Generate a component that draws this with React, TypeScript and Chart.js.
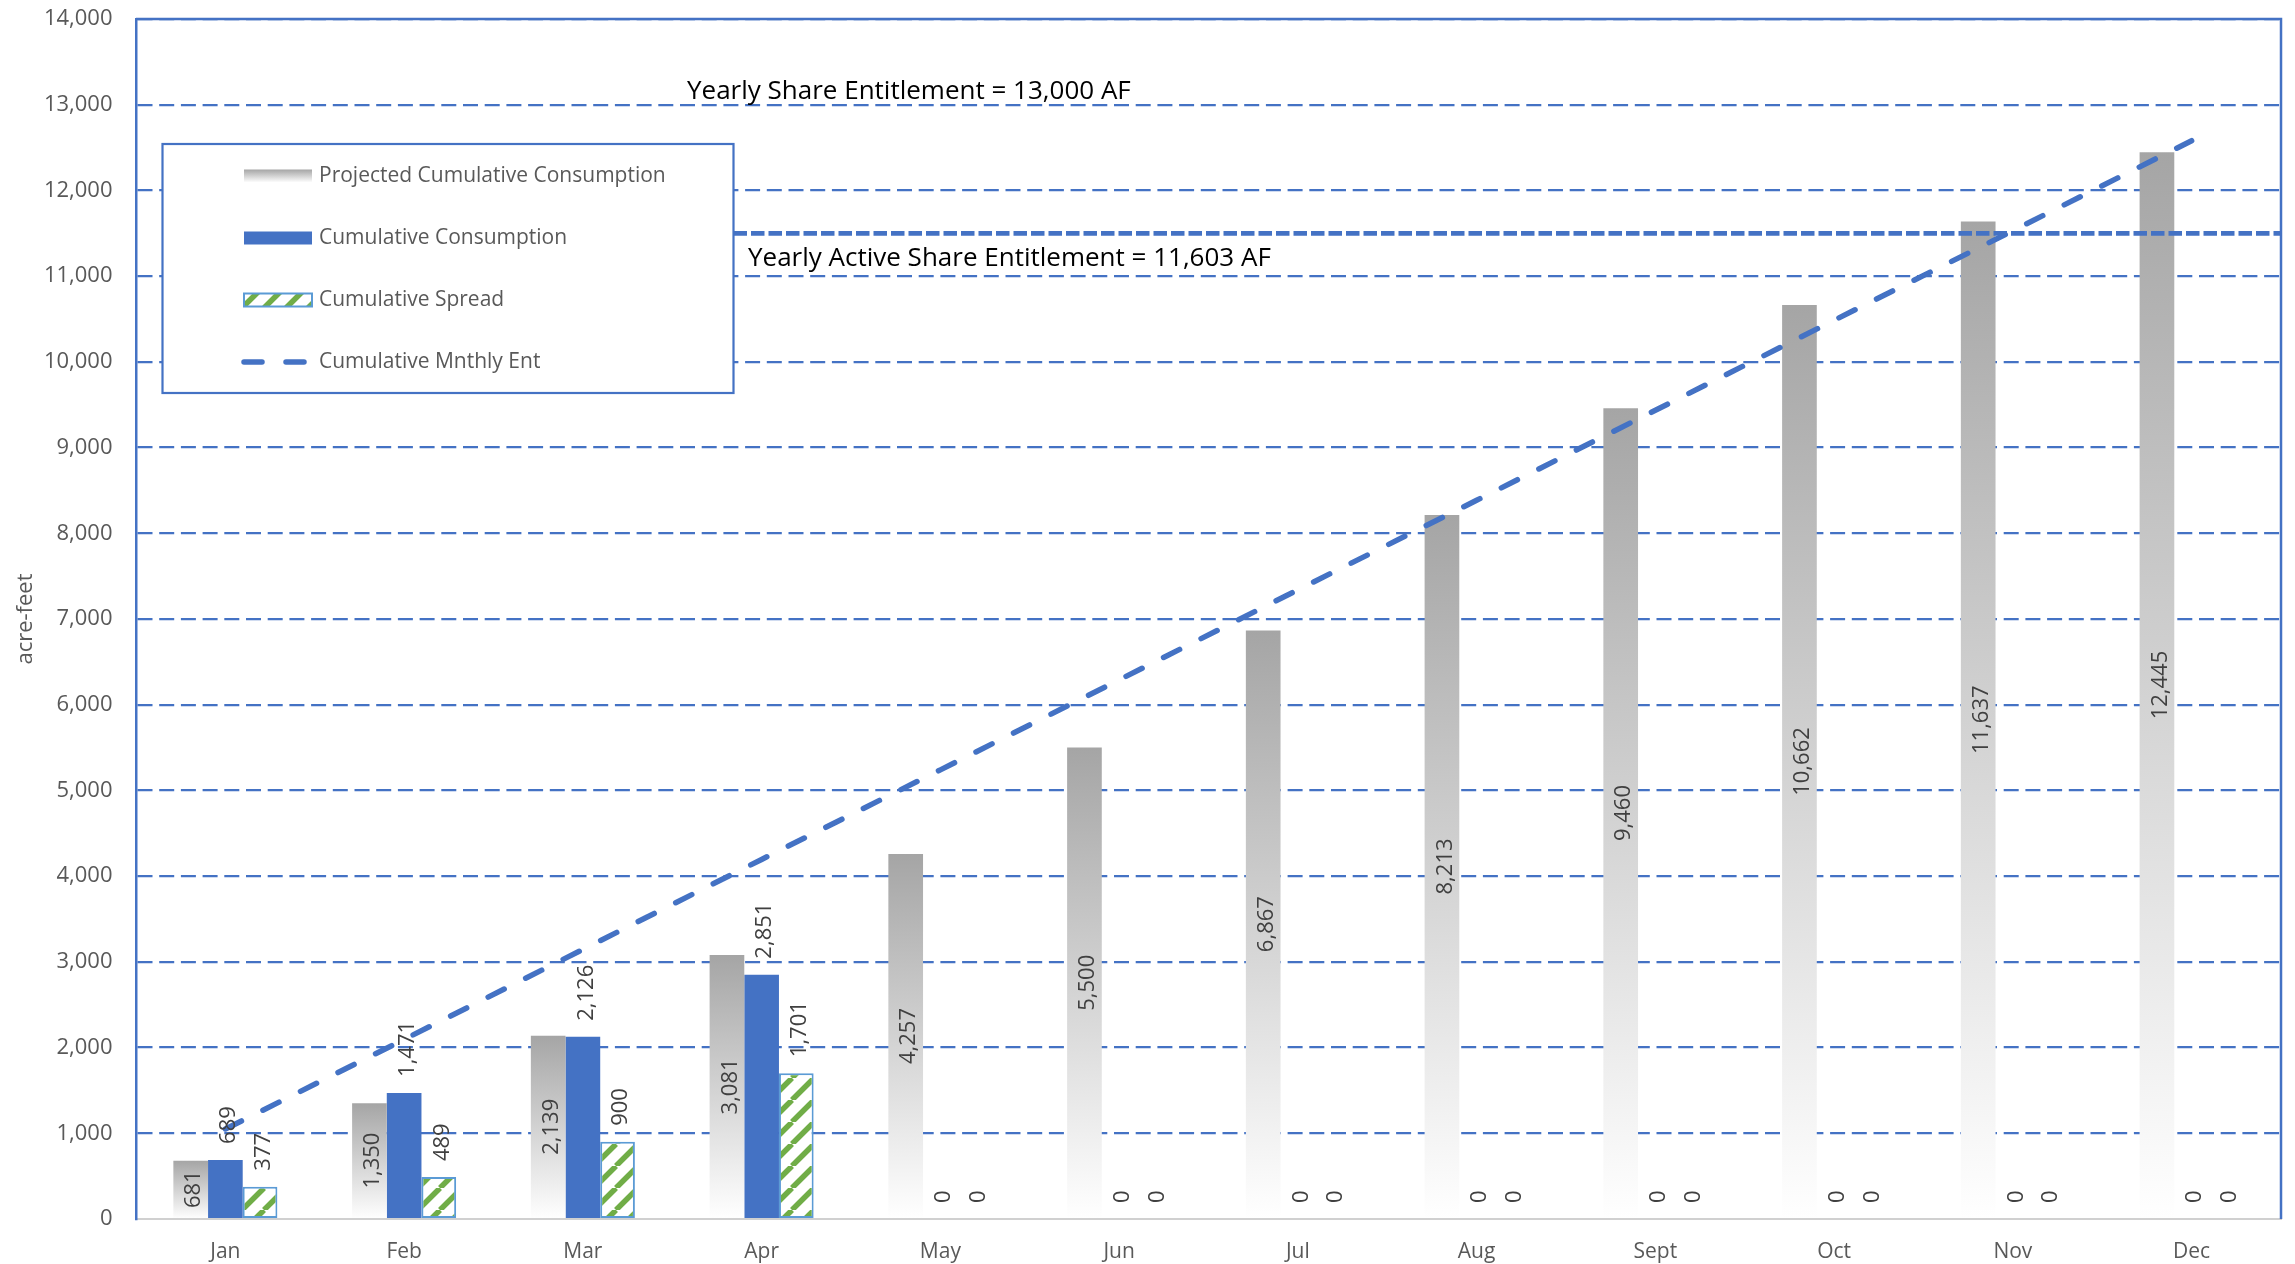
import React, { useEffect, useRef } from 'react';
import { Chart, registerables } from 'chart.js';

Chart.register(...registerables);

// ---------------- data ----------------
const MONTHS = ['Jan', 'Feb', 'Mar', 'Apr', 'May', 'Jun', 'Jul', 'Aug', 'Sept', 'Oct', 'Nov', 'Dec'];
const PROJECTED = [681, 1350, 2139, 3081, 4257, 5500, 6867, 8213, 9460, 10662, 11637, 12445];
const CONSUMPTION = [689, 1471, 2126, 2851, 0, 0, 0, 0, 0, 0, 0, 0];
const SPREAD = [377, 489, 900, 1701, 0, 0, 0, 0, 0, 0, 0, 0];
const MONTHLY_ENT = [1050, 2095, 3145, 4195, 5240, 6290, 7340, 8385, 9435, 10485, 11530, 12580];
const SERIES_LABELS = [
  'Projected Cumulative Consumption',
  'Cumulative Consumption',
  'Cumulative Spread',
  'Cumulative Mnthly Ent',
];
const Y_MIN = 0;
const Y_MAX = 14000;
const Y_STEP = 1000;
const SHARE_ENTITLEMENT = 13000;
const ACTIVE_ENTITLEMENT = 11603;
const ACTIVE_LINE_LEVEL = 11500;

// ---------------- styles ----------------
const BLUE = '#4472C4';
const GREEN = '#70AD47';
const LIGHT_BLUE = '#5B9BD5';
const GRAY_TOP = '#A5A5A5';
const TEXT_GRAY = '#595959';
const LABEL_GRAY = '#404040';
const FONT = '"Open Sans", "DejaVu Sans", sans-serif';
const LINE_DASH = [18, 24];

const fmt = (v: number) => Number(v).toLocaleString('en-US');

function grayGradient(ctx: CanvasRenderingContext2D, top: number, bottom: number) {
  const g = ctx.createLinearGradient(0, top, 0, bottom);
  g.addColorStop(0, GRAY_TOP);
  g.addColorStop(1, '#FFFFFF');
  return g;
}

function makeHatch(target: CanvasRenderingContext2D): CanvasPattern | string {
  const T = 22;
  const c = document.createElement('canvas');
  c.width = T;
  c.height = T;
  const g = c.getContext('2d');
  if (!g) return GREEN;
  g.fillStyle = '#FFFFFF';
  g.fillRect(0, 0, T, T);
  g.strokeStyle = GREEN;
  g.lineWidth = 5.5;
  g.beginPath();
  for (const k of [-1, 0, 1]) {
    g.moveTo(k * T, T);
    g.lineTo(k * T + T, 0);
  }
  g.stroke();
  return target.createPattern(c, 'repeat') || GREEN;
}

export default function App() {
  const canvasRef = useRef<HTMLCanvasElement | null>(null);

  useEffect(() => {
    const canvas = canvasRef.current;
    if (!canvas) return;
    const ctx0 = canvas.getContext('2d');
    if (!ctx0) return;
    const hatch = makeHatch(ctx0);

    Chart.defaults.font.family = FONT;

    const legendBox = (a: any) => ({ left: a.left + 26.5, top: a.top + 125, width: 571, height: 249 });

    const overlay = {
      id: 'overlay',
      beforeDatasetsDraw(chart: any) {
        const { ctx, chartArea: a } = chart;
        ctx.save();
        ctx.setLineDash([]);
        ctx.strokeStyle = BLUE;
        ctx.lineWidth = 2.5;
        ctx.beginPath();
        ctx.moveTo(a.left, a.top);
        ctx.lineTo(a.right, a.top);
        ctx.lineTo(a.right, a.bottom);
        ctx.stroke();
        ctx.restore();
      },
      afterDatasetsDraw(chart: any) {
        const { ctx, chartArea: a } = chart;
        const yS = chart.scales.y;

        // data labels (rotated, digits centred slightly right of the bar centre)
        [0, 1, 2].forEach((di) => {
          const meta = chart.getDatasetMeta(di);
          const values = chart.data.datasets[di].data as number[];
          meta.data.forEach((el: any, i: number) => {
            const v = values[i];
            const { x, y, base } = el.getProps(['x', 'y', 'base'], true);
            ctx.save();
            ctx.font = `22px ${FONT}`;
            ctx.fillStyle = LABEL_GRAY;
            ctx.textBaseline = 'alphabetic';
            if (di === 0) {
              ctx.translate(x, (y + base) / 2);
              ctx.rotate(-Math.PI / 2);
              ctx.textAlign = 'center';
            } else {
              ctx.translate(x, y - 16);
              ctx.rotate(-Math.PI / 2);
              ctx.textAlign = 'left';
            }
            ctx.fillText(fmt(v), 0, 9.8);
            ctx.restore();
          });
        });

        // legend
        const L = legendBox(a);
        ctx.save();
        ctx.setLineDash([]);
        ctx.fillStyle = '#FFFFFF';
        ctx.fillRect(L.left, L.top, L.width, L.height);
        ctx.strokeStyle = BLUE;
        ctx.lineWidth = 2.2;
        ctx.strokeRect(L.left, L.top, L.width, L.height);
        const sx = L.left + 81.5;
        const sw = 68;
        const sh = 13;
        SERIES_LABELS.forEach((label, i) => {
          const cy = L.top + 32 + i * 62;
          if (i === 0) {
            ctx.fillStyle = grayGradient(ctx, cy - sh / 2, cy + sh / 2);
            ctx.fillRect(sx, cy - sh / 2, sw, sh);
          } else if (i === 1) {
            ctx.fillStyle = BLUE;
            ctx.fillRect(sx, cy - sh / 2, sw, sh);
          } else if (i === 2) {
            ctx.fillStyle = hatch;
            ctx.fillRect(sx, cy - sh / 2, sw, sh);
            ctx.strokeStyle = LIGHT_BLUE;
            ctx.lineWidth = 2;
            ctx.strokeRect(sx, cy - sh / 2, sw, sh);
          } else {
            ctx.save();
            ctx.strokeStyle = BLUE;
            ctx.lineWidth = 5.5;
            ctx.lineCap = 'round';
            ctx.setLineDash(LINE_DASH);
            ctx.beginPath();
            ctx.moveTo(sx, cy);
            ctx.lineTo(sx + sw, cy);
            ctx.stroke();
            ctx.restore();
          }
          ctx.fillStyle = TEXT_GRAY;
          ctx.font = `21px ${FONT}`;
          ctx.textAlign = 'left';
          ctx.textBaseline = 'middle';
          ctx.fillText(label, L.left + 156.5, cy);
        });
        ctx.restore();

        // active share entitlement line
        const yA = yS.getPixelForValue(ACTIVE_LINE_LEVEL);
        ctx.save();
        ctx.strokeStyle = BLUE;
        ctx.lineWidth = 4.7;
        ctx.setLineDash([13.5, 4]);
        ctx.beginPath();
        ctx.moveTo(L.left + L.width, yA);
        ctx.lineTo(a.right, yA);
        ctx.stroke();
        ctx.restore();

        // annotations
        ctx.save();
        ctx.fillStyle = '#000000';
        ctx.font = `26px ${FONT}`;
        ctx.textAlign = 'left';
        ctx.textBaseline = 'alphabetic';
        ctx.fillText(
          `Yearly Share Entitlement = ${fmt(SHARE_ENTITLEMENT)} AF`,
          a.left + 551,
          yS.getPixelForValue(SHARE_ENTITLEMENT) - 6
        );
        ctx.fillText(
          `Yearly Active Share Entitlement = ${fmt(ACTIVE_ENTITLEMENT)} AF`,
          L.left + L.width + 14.5,
          yA + 33
        );
        ctx.restore();
      },
    };

    const chart = new Chart(canvas, {
      type: 'bar',
      data: {
        labels: MONTHS,
        datasets: [
          {
            label: SERIES_LABELS[0],
            data: PROJECTED,
            order: 1,
            backgroundColor: (c: any) => {
              const chart = c.chart;
              const y = chart.scales && chart.scales.y;
              if (!y || c.raw == null) return GRAY_TOP;
              const top = y.getPixelForValue(c.raw);
              const base = y.getPixelForValue(0);
              if (!(base > top)) return GRAY_TOP;
              return grayGradient(chart.ctx, top, base);
            },
            borderWidth: 0,
          },
          {
            label: SERIES_LABELS[1],
            data: CONSUMPTION,
            order: 1,
            backgroundColor: BLUE,
            borderWidth: 0,
          },
          {
            label: SERIES_LABELS[2],
            data: SPREAD,
            order: 1,
            backgroundColor: hatch as any,
            borderColor: LIGHT_BLUE,
            borderWidth: (c: any) => (c.raw ? 2 : 0),
            borderSkipped: false,
          },
          {
            type: 'line',
            label: SERIES_LABELS[3],
            data: MONTHLY_ENT,
            order: 0,
            borderColor: BLUE,
            borderWidth: 5.5,
            borderDash: LINE_DASH,
            borderCapStyle: 'round',
            pointRadius: 0,
            tension: 0,
            fill: false,
          } as any,
        ],
      },
      options: {
        responsive: false,
        animation: false,
        devicePixelRatio: 1,
        categoryPercentage: 0.582,
        barPercentage: 1,
        layout: { padding: { top: 19, right: 14, left: 0, bottom: 0 } },
        plugins: {
          legend: { display: false },
          tooltip: { enabled: false },
        },
        scales: {
          x: {
            grid: { display: false, drawTicks: false },
            border: { display: true, color: '#D0D0D0', width: 2 },
            ticks: { color: TEXT_GRAY, font: { size: 21 }, padding: 20 },
            afterFit: (s: any) => {
              s.height = 45;
              s.paddingTop = 0;
              s.paddingBottom = 0;
            },
          },
          y: {
            min: Y_MIN,
            max: Y_MAX,
            ticks: {
              stepSize: Y_STEP,
              color: TEXT_GRAY,
              font: { size: 22 },
              padding: 23.5,
              callback: (v: any) => fmt(v),
            },
            grid: {
              color: (c: any) => (c.tick && c.tick.value === 0 ? 'rgba(0,0,0,0)' : BLUE),
              lineWidth: 2.25,
              drawTicks: false,
            },
            border: { display: true, color: BLUE, width: 2.5, dash: [15, 6.7] },
            title: {
              display: true,
              text: 'acre-feet',
              color: TEXT_GRAY,
              font: { size: 22 },
              padding: { top: 12.6, bottom: 0 },
            },
            afterFit: (s: any) => {
              s.width = 136;
              s.paddingTop = 0;
              s.paddingBottom = 0;
            },
          },
        },
      } as any,
      plugins: [overlay],
    });

    return () => {
      chart.destroy();
    };
  }, []);

  return (
    <div style={{ position: 'fixed', left: 0, top: 0, width: 2295, height: 1264, background: '#FFFFFF' }}>
      <canvas ref={canvasRef} width={2295} height={1264} style={{ display: 'block', width: 2295, height: 1264 }} />
    </div>
  );
}
